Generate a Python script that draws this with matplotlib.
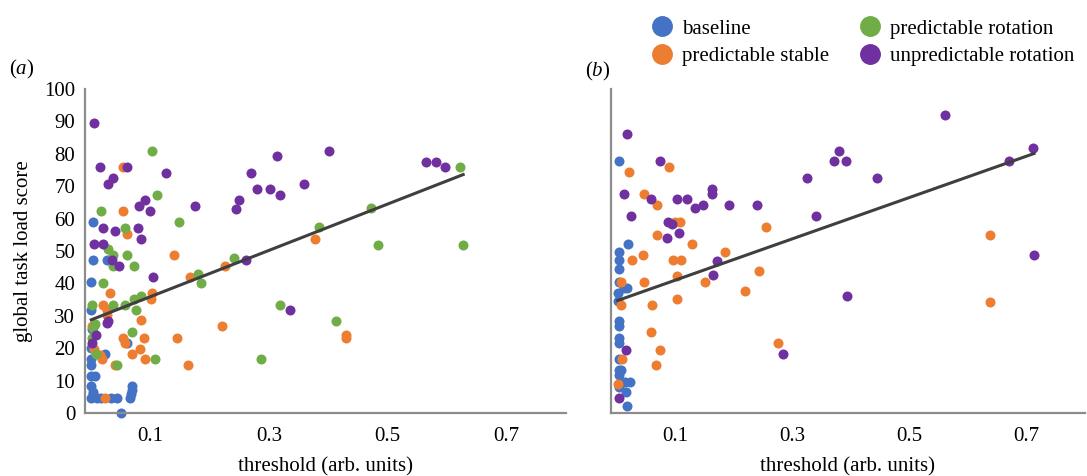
import matplotlib
matplotlib.use("Agg")
import matplotlib.pyplot as plt
from matplotlib.lines import Line2D
import numpy as np

plt.rcParams['font.family'] = ['Liberation Serif', 'DejaVu Serif']

# ---------------- data ----------------
series_names = ["baseline", "predictable stable", "predictable rotation", "unpredictable rotation"]
series_colors = ["#4472C4", "#ED7D31", "#70AD47", "#7030A0"]

# panel (a)
a_baseline_x = [0.004, 0.004, 0.027, 0.001, 0.001, 0.003, 0.001, 0.062, 0.024, 0.001, 0.001, 0.001, 0.008,
                0.001, 0.004, 0.001, 0.010, 0.018, 0.035, 0.044, 0.066, 0.069, 0.070, 0.068, 0.051, 0.004]
a_baseline_y = [58.8, 47.1, 47.1, 40.3, 31.9, 26.0, 20.0, 21.6, 18.3, 16.6, 14.9, 11.5, 11.5,
                8.2, 6.6, 4.6, 4.6, 4.6, 4.6, 4.6, 4.6, 8.2, 7.0, 6.0, 0.0, 5.8]

a_stable_x = [0.054, 0.055, 0.061, 0.141, 0.226, 0.167, 0.033, 0.104, 0.102, 0.020, 0.027, 0.027, 0.085,
              0.221, 0.002, 0.054, 0.057, 0.090, 0.145, 0.083, 0.070, 0.005, 0.016, 0.019, 0.092, 0.041,
              0.164, 0.025, 0.377, 0.429, 0.429]
a_stable_y = [75.8, 62.2, 55.4, 48.7, 45.3, 41.9, 37.1, 37.1, 35.2, 33.4, 31.9, 30.3, 28.6,
              26.7, 26.7, 23.3, 21.6, 23.3, 23.3, 19.9, 18.3, 19.6, 17.8, 16.6, 16.6, 14.9,
              14.9, 4.6, 53.8, 24.1, 23.1]

a_rotation_x = [0.103, 0.112, 0.017, 0.057, 0.149, 0.030, 0.038, 0.062, 0.073, 0.038, 0.242, 0.180, 0.185,
                0.021, 0.003, 0.038, 0.057, 0.073, 0.084, 0.076, 0.319, 0.007, 0.004, 0.069, 0.002, 0.009,
                0.044, 0.108, 0.286, 0.621, 0.471, 0.384, 0.483, 0.627, 0.413]
a_rotation_y = [80.9, 67.4, 62.2, 57.2, 58.8, 50.5, 48.7, 48.7, 45.3, 45.3, 47.9, 42.9, 40.1,
                40.1, 33.4, 33.4, 33.4, 35.2, 36.0, 31.9, 33.4, 27.5, 26.3, 25.0, 23.3, 18.3,
                14.9, 16.6, 16.6, 75.9, 63.3, 57.4, 52.0, 52.0, 28.3]

a_unpred_x = [0.006, 0.016, 0.062, 0.127, 0.038, 0.030, 0.314, 0.270, 0.280, 0.302, 0.319, 0.250, 0.245,
              0.175, 0.092, 0.082, 0.100, 0.020, 0.041, 0.079, 0.085, 0.006, 0.020, 0.036, 0.047, 0.261,
              0.105, 0.027, 0.030, 0.009, 0.003, 0.401, 0.564, 0.582, 0.597, 0.359, 0.336]
a_unpred_y = [89.4, 75.8, 75.8, 74.1, 72.4, 70.8, 79.2, 74.1, 69.0, 69.0, 67.4, 65.6, 63.1,
              64.0, 65.6, 64.0, 62.2, 57.2, 56.3, 57.2, 53.8, 52.1, 52.1, 47.1, 45.3, 47.1,
              41.9, 27.8, 28.3, 24.1, 21.6, 80.8, 77.6, 77.6, 75.9, 70.8, 31.8]

# panel (b)
b_baseline_x = [0.004, 0.020, 0.004, 0.004, 0.004, 0.004, 0.012, 0.017, 0.002, 0.003, 0.004, 0.004, 0.004,
                0.004, 0.004, 0.004, 0.008, 0.004, 0.015, 0.023, 0.004, 0.0165, 0.018]
b_baseline_y = [77.8, 52.2, 49.6, 47.1, 44.5, 40.3, 38.6, 38.6, 37.1, 34.5, 28.5, 26.7, 23.3,
                21.6, 16.7, 13.3, 13.3, 11.6, 9.7, 9.7, 8.0, 6.4, 2.2]

b_stable_x = [0.089, 0.022, 0.047, 0.0695, 0.099, 0.109, 0.0695, 0.129, 0.255, 0.026, 0.046, 0.097, 0.1105,
              0.185, 0.047, 0.103, 0.151, 0.244, 0.219, 0.007, 0.008, 0.061, 0.103, 0.058, 0.075, 0.067,
              0.010, 0.002, 0.275, 0.638, 0.638]
b_stable_y = [75.9, 74.4, 67.5, 64.1, 59.1, 59.1, 54.8, 52.2, 57.4, 47.1, 48.8, 47.1, 47.1,
              49.6, 40.3, 42.2, 40.3, 43.7, 37.8, 40.3, 33.4, 33.4, 35.2, 25.0, 19.3, 14.9,
              16.7, 9.0, 21.6, 54.8, 34.3]

b_unpred_x = [0.017, 0.0735, 0.0125, 0.058, 0.104, 0.120, 0.134, 0.148, 0.163, 0.163, 0.192, 0.239, 0.025,
              0.087, 0.095, 0.086, 0.1065, 0.171, 0.165, 0.0165, 0.004, 0.285, 0.561, 0.380, 0.371, 0.391,
              0.712, 0.670, 0.326, 0.444, 0.341, 0.713, 0.394]
b_unpred_y = [86.2, 77.8, 67.5, 65.9, 65.9, 65.9, 63.4, 64.1, 69.2, 67.7, 64.1, 64.1, 60.8,
              59.1, 58.2, 54.1, 55.6, 46.8, 42.7, 19.3, 4.7, 18.3, 92.0, 81.0, 77.7, 77.7,
              81.8, 77.7, 72.5, 72.5, 60.7, 48.8, 36.0]

# fitted trend lines (intercept, slope)
trend_a = (28.7, 71.6)
trend_b = (34.6, 63.8)

y_ticks = [0, 10, 20, 30, 40, 50, 60, 70, 80, 90, 100]
x_ticks = [0.1, 0.3, 0.5, 0.7]
x_tick_labels = ["0.1", "0.3", "0.5", "0.7"]

# ---------------- figure ----------------
W, H = 1087, 476
fig = plt.figure(figsize=(W / 100, H / 100), dpi=100)

def px_axes(left, right, bottom, top):
    return fig.add_axes([left / W, (H - bottom) / H, (right - left) / W, (bottom - top) / H])

ax_a = px_axes(85, 566, 413, 89)
ax_b = px_axes(611, 1085, 413, 89)

FS = 15
spine_color = "#8c8c8c"
marker_s = 52

def style(ax, show_y):
    ax.set_xlim(-0.0095, 0.80)
    ax.set_ylim(0, 100)
    for s in ["top", "right"]:
        ax.spines[s].set_visible(False)
    for s in ["left", "bottom"]:
        ax.spines[s].set_color(spine_color)
        ax.spines[s].set_linewidth(1.6)
    ax.set_xticks(x_ticks)
    ax.set_xticklabels(x_tick_labels, fontsize=FS)
    ax.tick_params(axis="x", length=0, pad=10)
    ax.set_yticks(y_ticks)
    if show_y:
        ax.set_yticklabels([str(v) for v in y_ticks], fontsize=FS)
        ax.tick_params(axis="y", length=0, pad=7)
    else:
        ax.set_yticklabels([])
        ax.tick_params(axis="y", length=0)
    ax.set_xlabel("threshold (arb. units)", fontsize=FS, labelpad=8)

def trend(ax, xs, coef):
    allx = np.concatenate([np.asarray(v, float) for v in xs])
    xx = np.array([allx.min(), allx.max()])
    ax.plot(xx, coef[0] + coef[1] * xx, color="#3f3f3f", lw=2.2, zorder=5)

# panel a
ax_a.scatter(a_baseline_x, a_baseline_y, s=marker_s, color=series_colors[0], linewidths=0, zorder=2)
ax_a.scatter(a_stable_x, a_stable_y, s=marker_s, color=series_colors[1], linewidths=0, zorder=2)
ax_a.scatter(a_rotation_x, a_rotation_y, s=marker_s, color=series_colors[2], linewidths=0, zorder=2)
ax_a.scatter(a_unpred_x, a_unpred_y, s=marker_s, color=series_colors[3], linewidths=0, zorder=2)
trend(ax_a, [a_baseline_x, a_stable_x, a_rotation_x, a_unpred_x], trend_a)
style(ax_a, True)
ax_a.set_ylabel("global task load score", fontsize=FS, labelpad=8)

# panel b
ax_b.scatter(b_baseline_x, b_baseline_y, s=marker_s, color=series_colors[0], linewidths=0, zorder=2)
ax_b.scatter(b_stable_x, b_stable_y, s=marker_s, color=series_colors[1], linewidths=0, zorder=2)
ax_b.scatter(b_unpred_x, b_unpred_y, s=marker_s, color=series_colors[3], linewidths=0, zorder=2)
trend(ax_b, [b_baseline_x, b_stable_x, b_unpred_x], trend_b)
style(ax_b, False)

for ax in (ax_a, ax_b):
    for c in ax.collections:
        c.set_clip_on(False)

# panel letters
fig.text(9 / W, (H - 70) / H, "(", fontsize=FS, va="center", ha="left")
fig.text(15 / W, (H - 70) / H, "a", fontsize=FS, va="center", ha="left", style="italic")
fig.text(26 / W, (H - 70) / H, ")", fontsize=FS, va="center", ha="left")
fig.text(585 / W, (H - 72) / H, "(", fontsize=FS, va="center", ha="left")
fig.text(591 / W, (H - 72) / H, "b", fontsize=FS, va="center", ha="left", style="italic")
fig.text(602 / W, (H - 72) / H, ")", fontsize=FS, va="center", ha="left")

# legend
handles = [Line2D([], [], marker="o", linestyle="", markersize=14, color=c) for c in series_colors]
fig.legend(handles, series_names, loc="upper left", bbox_to_anchor=(652 / W, (H - 19) / H),
           ncol=2, frameon=False, fontsize=15, handlelength=1.0, handletextpad=0.45,
           columnspacing=1.45, labelspacing=0.4, borderpad=0.0, borderaxespad=0.0)

fig.savefig("out.png", dpi=100)
